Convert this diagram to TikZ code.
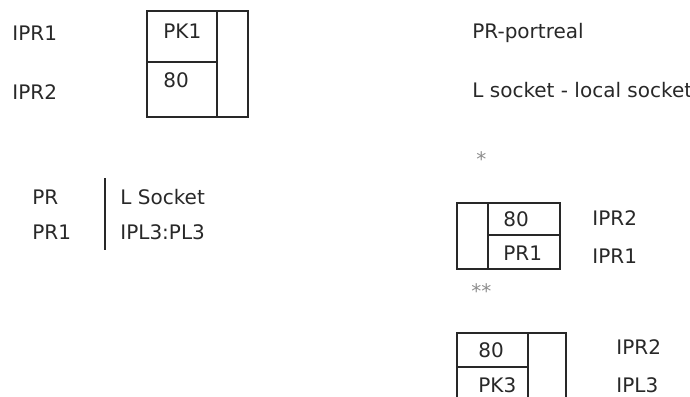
\documentclass[tikz,border=0pt]{standalone}
\usepackage{fontspec}
\setmainfont{DejaVu Sans}
\usepackage{xcolor}
\definecolor{ink}{RGB}{40,40,40}
\definecolor{faint}{RGB}{140,140,140}

\begin{document}
\begin{tikzpicture}[
  x=0.5pt, y=-0.5pt,
  lbl/.style={anchor=west, inner sep=0pt, text=ink,
              font=\fontsize{10}{12}\selectfont},
  star/.style={anchor=west, inner sep=0pt, text=faint,
               font=\fontsize{10}{12}\selectfont},
  cell/.style={draw=ink, line width=0.9pt},
]

\useasboundingbox (0,0) rectangle (690,396);
\clip (0,0) rectangle (690,396);

% ---- first table ----
\node[lbl] (ipra) at (12,33) {IPR1};
\node[lbl] (iprb) at (12,92) {IPR2};
\draw[cell] (147,11) rectangle (248,117);
\draw[cell] (217,11) -- (217,117);
\draw[cell] (147,62) -- (217,62);
\node[lbl] (pka) at (163,31) {PK1};
\node[lbl] (pta) at (163,80) {80};

% ---- socket pair ----
\node[lbl] (pr)  at (32,197) {PR};
\node[lbl] (pra) at (32,232) {PR1};
\draw[ink, line width=0.9pt] (105,178) -- (105,250);
\node[lbl] (ls)  at (120,197) {L Socket};
\node[lbl] (ipl) at (120,232) {IPL3:PL3};

% ---- legend ----
\node[lbl] (lega) at (472,33) {PR-portreal};
\node[lbl] (legb) at (472,90) {L socket - local socket};
\node[star] (sa) at (476,159) {*};

% ---- second table ----
\draw[cell] (457,203) rectangle (560,269);
\draw[cell] (488,203) -- (488,269);
\draw[cell] (488,235) -- (560,235);
\node[lbl] (ptb) at (503,219) {80};
\node[lbl] (prb) at (503,253) {PR1};
\node[lbl] (iprc) at (592,218) {IPR2};
\node[lbl] (iprd) at (592,256) {IPR1};
\node[star] (sb) at (471,291) {**};

% ---- third table ----
\draw[cell] (457,333) rectangle (566,430);
\draw[cell] (528,333) -- (528,430);
\draw[cell] (457,367) -- (528,367);
\node[lbl] (ptc) at (478,350) {80};
\node[lbl] (pkc) at (478,385) {PK3};
\node[lbl] (ipre) at (616,347) {IPR2};
\node[lbl] (iplb) at (616,385) {IPL3};

\end{tikzpicture}
\end{document}
